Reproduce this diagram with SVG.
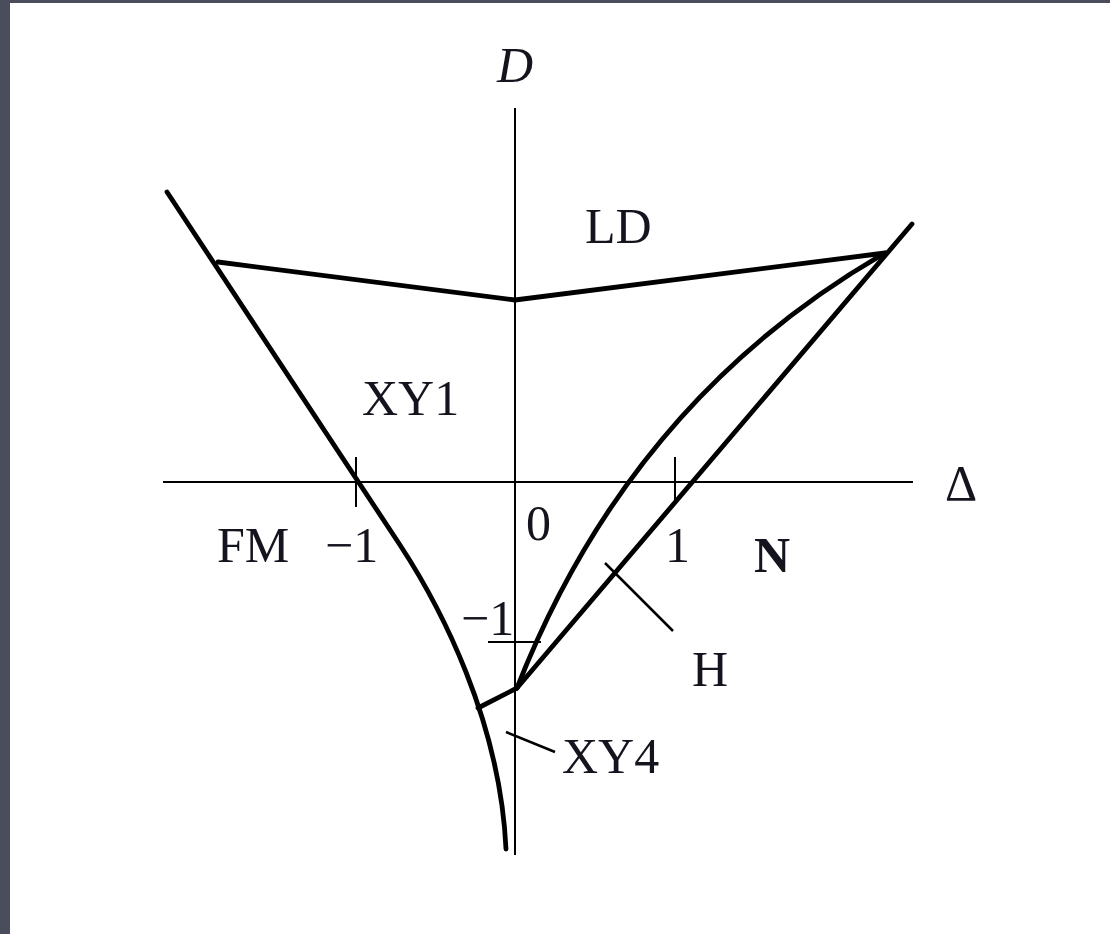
<svg xmlns="http://www.w3.org/2000/svg" width="1110" height="934" viewBox="0 0 1110 934">
<style>
.axis{stroke:#000;stroke-width:2;fill:none}
.thick{stroke:#000;stroke-width:4.8;fill:none;stroke-linecap:round;stroke-linejoin:round}
.lead{stroke:#000;stroke-width:2.5;fill:none}
text{font-family:"Liberation Serif","Times New Roman",serif;font-size:50px;fill:#14141e}
</style>
<rect width="1110" height="934" fill="#4a4d5b"/>
<rect x="10" y="3" width="1100" height="931" fill="#fff"/>
<g id="axes">
<line class="axis" x1="515" y1="108" x2="515" y2="855"/>
<line class="axis" x1="163" y1="482" x2="913" y2="482"/>
<line class="axis" x1="356" y1="457" x2="356" y2="507"/>
<line class="axis" x1="675" y1="457" x2="675" y2="502"/>
<line class="axis" x1="488" y1="642" x2="541" y2="642"/>
</g>
<g id="connectors">
<path class="thick" d="M167,192 L400,545 C440,606 500,720 506,849"/>
<path class="thick" d="M218,262 L515,300 L885,253"/>
<path class="thick" d="M912,224 L517,688"/>
<path class="thick" d="M517,688 Q630,400 885,253"/>
<path class="thick" d="M478,708 L517,688"/>
<line class="lead" x1="605" y1="563" x2="673" y2="631"/>
<line class="lead" x1="506" y1="732" x2="555" y2="752"/>
</g>
<g id="labels">
<text x="497" y="82" font-style="italic">D</text>
<text x="945" y="500">Δ</text>
<text x="585" y="243">LD</text>
<text x="362" y="415">XY1</text>
<text x="217" y="562">FM</text>
<text x="325" y="562">−1</text>
<text x="526" y="540">0</text>
<text x="665" y="562">1</text>
<text x="754" y="572" font-weight="bold">N</text>
<text x="461" y="635">−1</text>
<text x="692" y="686">H</text>
<text x="562" y="773">XY4</text>
</g>
</svg>
